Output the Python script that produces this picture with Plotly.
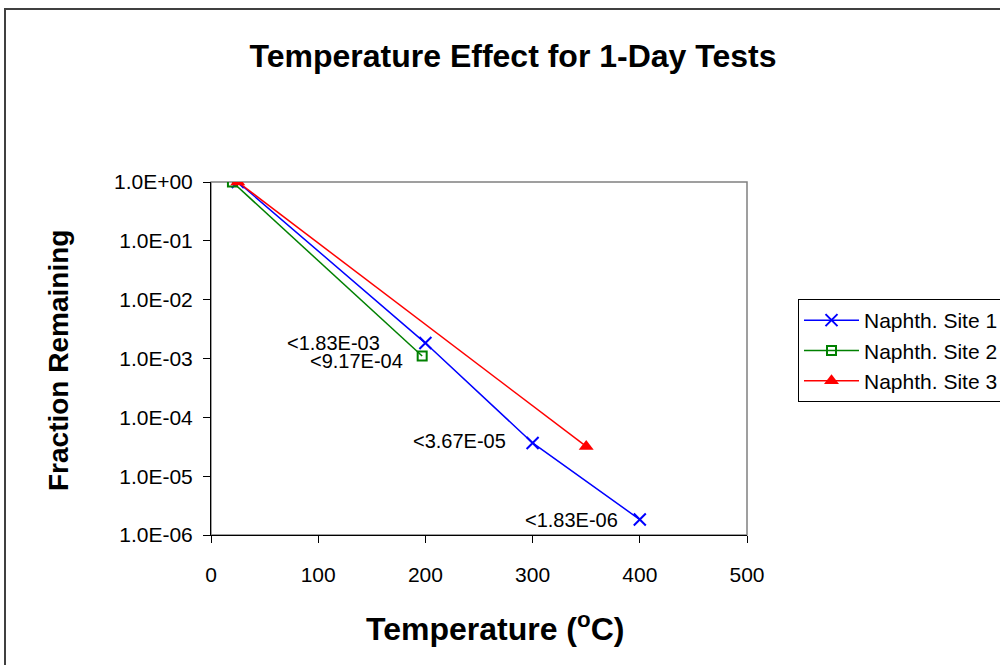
import math
import plotly.graph_objects as go

# ---- data ----
site1_temp = [25, 200, 300, 400]
site1_frac = [1.0, 1.83e-3, 3.67e-5, 1.83e-6]
site2_temp = [20, 197]
site2_frac = [1.0, 1.1e-3]
site3_temp = [25, 350]
site3_frac = [1.0, 3.2e-5]

series_names = ["Naphth. Site 1", "Naphth. Site 2", "Naphth. Site 3"]

x_tickvals = [0, 100, 200, 300, 400, 500]
y_tickvals = [1, 1e-1, 1e-2, 1e-3, 1e-4, 1e-5, 1e-6]
y_ticktext = ["1.0E+00", "1.0E-01", "1.0E-02", "1.0E-03", "1.0E-04", "1.0E-05", "1.0E-06"]

label_x = [200, 197, 300, 400]
label_y = [1.83e-3, 1.1e-3, 3.67e-5, 1.83e-6]
label_text = ["&lt;1.83E-03", "&lt;9.17E-04", "&lt;3.67E-05", "&lt;1.83E-06"]
label_xshift = [-43, -17, -25, -20]
label_yshift = [0, -5, 2, 0]

FONT = "Arial, 'Liberation Sans', sans-serif"
# figure is larger than the 1000x665 window; the chart border and legend run past the edge
W, H = 1040, 700

fig = go.Figure()
fig.add_trace(go.Scatter(
    x=site1_temp, y=site1_frac, name=series_names[0], mode="lines+markers",
    line=dict(color="#0000FF", width=1.5),
    marker=dict(symbol="x-thin", size=12, line=dict(color="#0000FF", width=2)),
    legendgroup="a"))
fig.add_trace(go.Scatter(
    x=site2_temp, y=site2_frac, name=series_names[1], mode="lines+markers",
    line=dict(color="#008000", width=1.5),
    marker=dict(symbol="square-open", size=9, color="#008000", line=dict(color="#008000", width=2)),
    legendgroup="b"))
fig.add_trace(go.Scatter(
    x=site3_temp, y=site3_frac, name=series_names[2], mode="lines+markers",
    line=dict(color="#FF0000", width=1.5),
    marker=dict(symbol="triangle-up", size=13, color="#FF0000"),
    legendgroup="c"))

annotations = []
for x, y, t, xs, ys in zip(label_x, label_y, label_text, label_xshift, label_yshift):
    annotations.append(dict(x=x, y=math.log10(y), xref="x", yref="y", text=t, showarrow=False,
                            xanchor="right", yanchor="middle", xshift=xs, yshift=ys,
                            font=dict(family=FONT, size=20, color="black")))

# axis titles
annotations.append(dict(x=58 / W, y=1 - 361 / H, xref="paper", yref="paper",
                        text="<b>Fraction Remaining</b>", textangle=-90, showarrow=False,
                        xanchor="center", yanchor="middle",
                        font=dict(family=FONT, size=28, color="black")))
annotations.append(dict(x=495 / W, y=1 - 627 / H, xref="paper", yref="paper",
                        text="<b>Temperature (<sup>o</sup>C)</b>", showarrow=False,
                        xanchor="center", yanchor="middle",
                        font=dict(family=FONT, size=32, color="black")))

shapes = [
    # outer chart border
    dict(type="rect", xref="paper", yref="paper", x0=5 / W, y0=1 - 9 / H, x1=1.1, y1=-0.1,
         line=dict(color="#404040", width=2), fillcolor="rgba(0,0,0,0)", layer="below"),
    # plot-area frame
    dict(type="rect", xref="x domain", yref="y domain", x0=0, y0=0, x1=1, y1=1,
         line=dict(color="#808080", width=1.5), fillcolor="rgba(0,0,0,0)", layer="below"),
]

fig.update_layout(
    template="none",
    width=W, height=H, autosize=False,
    margin=dict(l=0, r=0, t=0, b=0, pad=0, autoexpand=False),
    paper_bgcolor="white", plot_bgcolor="white",
    font=dict(family=FONT, color="black"),
    title=dict(text="<b>Temperature Effect for 1-Day Tests</b>", x=513 / W, xanchor="center",
               y=1 - 56 / H, yanchor="middle", xref="paper", yref="paper", automargin=False,
               font=dict(family=FONT, size=32, color="black")),
    showlegend=True,
    legend=dict(x=798 / W, y=1 - 299 / H, xanchor="left", yanchor="top",
                bgcolor="white", bordercolor="#000000", borderwidth=1,
                font=dict(family=FONT, size=21, color="black"),
                itemwidth=55, tracegroupgap=4, traceorder="normal"),
    annotations=annotations,
    shapes=shapes,
)

fig.update_xaxes(
    domain=[211 / W, 747 / W], range=[0, 500], tickvals=x_tickvals, automargin=False,
    showgrid=False, zeroline=False, showline=True, linecolor="black", linewidth=1,
    ticks="outside", ticklen=7, tickcolor="black", tickwidth=1,
    tickfont=dict(family=FONT, size=21, color="black"), ticklabelstandoff=14,
)
fig.update_yaxes(
    type="log", domain=[1 - 535 / H, 1 - 182 / H], range=[-6, 0], automargin=False,
    tickvals=y_tickvals, ticktext=y_ticktext,
    showgrid=False, zeroline=False, showline=True, linecolor="black", linewidth=1,
    ticks="outside", ticklen=7, tickcolor="black", tickwidth=1,
    tickfont=dict(family=FONT, size=21, color="black"), ticklabelstandoff=6,
)

fig.write_html(
    "out.html",
    config={"displayModeBar": False},
    post_script="document.body.style.margin='0';document.body.style.overflow='hidden';"
                "document.documentElement.style.overflow='hidden';",
)
